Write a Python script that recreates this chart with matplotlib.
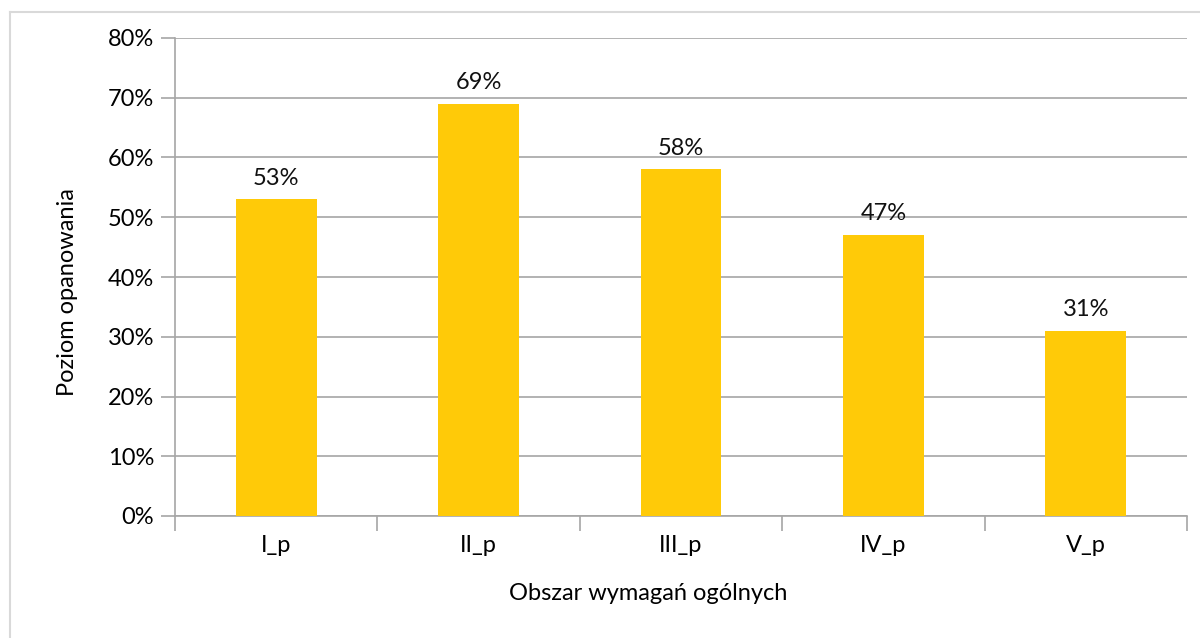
import matplotlib.pyplot as plt
from matplotlib.lines import Line2D
from matplotlib.ticker import FuncFormatter

# obszary wymagań i poziom opanowania w procentach
categories = ["I_p", "II_p", "III_p", "IV_p", "V_p"]
values = [53, 69, 58, 47, 31]

plt.rcParams['font.family'] = ['Lato', 'DejaVu Sans']

fig = plt.figure(figsize=(12, 6.38), dpi=100)
ax = fig.add_axes([175 / 1200, 1 - 516 / 638, (1187 - 175) / 1200, (516 - 38) / 638])

x = list(range(len(categories)))
bars = ax.bar(x, values, width=0.4, color="#FFCA08", zorder=3)
for b, v in zip(bars, values):
    ax.text(b.get_x() + b.get_width() / 2, v + 1.8, f"{v}%", ha="center", va="bottom",
            fontsize=17, color="#111111")

ax.set_xlim(-0.5, len(categories) - 0.5)
ax.set_ylim(0, 80)
ax.set_yticks(range(0, 81, 10))
ax.yaxis.set_major_formatter(FuncFormatter(lambda v, _: f"{v:.0f}%"))
ax.yaxis.grid(True, color="#A6A6A6", linewidth=1.2, zorder=0)

# etykiety kategorii w środku, kreski na granicach
ax.set_xticks([i - 0.5 for i in range(len(categories) + 1)])
ax.set_xticklabels([])
ax.set_xticks(x, minor=True)
ax.set_xticklabels(categories, minor=True)
ax.tick_params(axis="x", which="minor", length=0, pad=14, labelsize=17)
ax.tick_params(axis="x", which="major", length=11, color="#A6A6A6", width=1.2)
ax.tick_params(axis="y", length=10, color="#A6A6A6", width=1.2, labelsize=17, pad=5)

for s in ["top", "right"]:
    ax.spines[s].set_visible(False)
for s in ["left", "bottom"]:
    ax.spines[s].set_color("#A6A6A6")
    ax.spines[s].set_linewidth(1.2)

ax.set_ylabel("Poziom opanowania", fontsize=17)
ax.set_xlabel("Obszar wymagań ogólnych", fontsize=17)
ax.yaxis.set_label_coords(-0.096, 0.469)
ax.xaxis.set_label_coords(0.468, -0.140)

# jasna ramka wykresu (lewa i górna krawędź)
fig.add_artist(Line2D([10 / 1200, 10 / 1200], [0, 1 - 12 / 638], color="#D9D9D9", linewidth=1.5))
fig.add_artist(Line2D([10 / 1200, 1], [1 - 12 / 638, 1 - 12 / 638], color="#D9D9D9", linewidth=1.5))

fig.savefig("out.png", dpi=100)
